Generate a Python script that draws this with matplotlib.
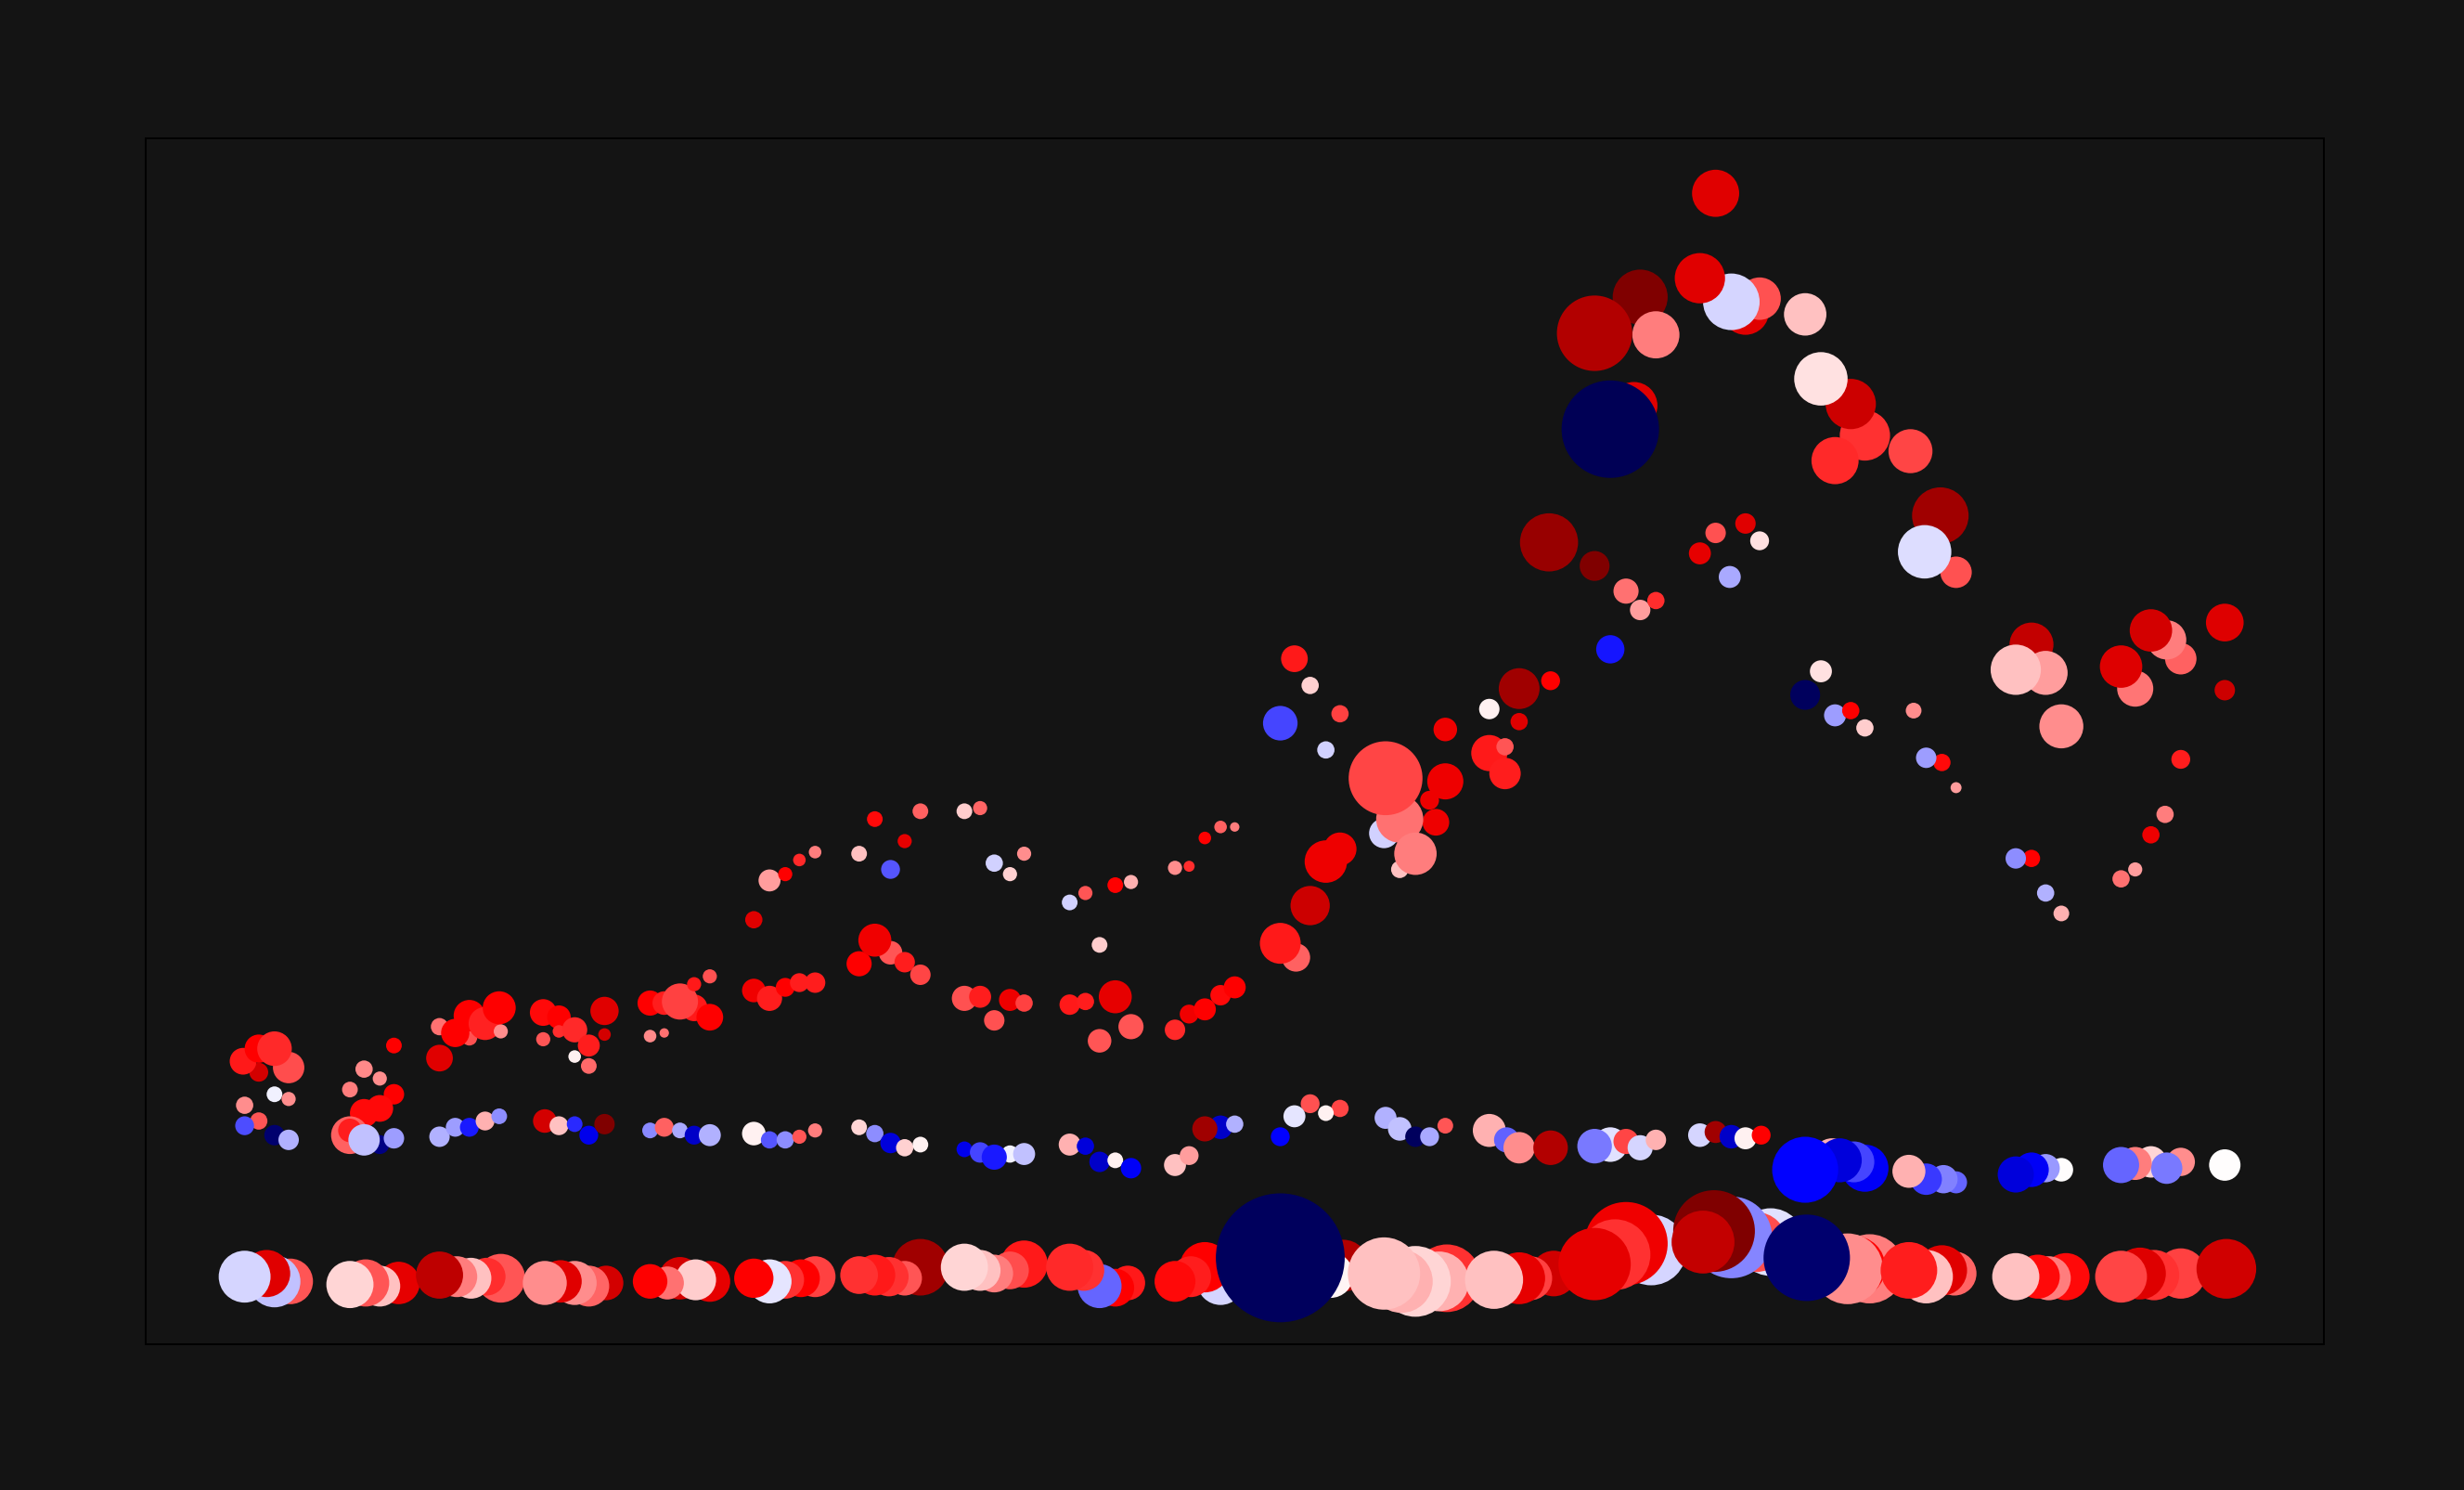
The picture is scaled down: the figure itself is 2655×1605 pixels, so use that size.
import numpy as np
import matplotlib
matplotlib.use("Agg")
import matplotlib.pyplot as plt

# --- data: three bands of bubbles (upper curves, middle band, bottom band) ---
# x / y are in chart units, size is bubble diameter, tone is the colour value (-1..1)

top_x = [72, 62, 72, 91, 82, 82, 91, 63, 72,
         139, 149, 158, 130, 158, 149, 139, 130, 130,
         187, 187, 206, 197, 206, 216, 226, 225,
         253, 263, 253, 263, 273, 282, 292, 292, 273, 282,
         321, 330, 321, 330, 349, 340, 349, 359, 359,
         397, 407, 416, 426, 387, 387, 397, 407, 416, 426,
         454, 464, 474, 483, 493, 454, 474, 483, 493, 464,
         521, 531, 540, 550, 559, 521, 531, 540, 550, 559,
         588, 598, 617, 627, 607, 588, 598, 617, 607, 627,
         655, 664, 674, 684, 693, 655, 664, 674, 684, 693,
         731, 741, 760, 722, 751, 732, 722, 741, 760, 751,
         827, 827, 817, 821, 788, 798, 798, 789, 808,
         855, 855, 865, 865, 874, 874, 894, 893,
         951, 961, 922, 947, 932, 922, 942, 951, 961, 932,
         999, 1018, 1027, 1009, 989, 989, 999, 1018, 1027, 1008,
         1094, 1085, 1075, 1056, 1066, 1056, 1066, 1075, 1085, 1094,
         1123, 1142, 1152, 1132, 1125, 1143, 1133, 1152,
         1200, 1209, 1190, 1219, 1200, 1190, 1209, 1219,
         1266, 1257, 1295, 1286, 1276, 1295, 1285, 1276, 1266, 1257,
         1323, 1323]
top_y = [173, 180, 188, 176, 188, 159, 156, 152, 142,
         175, 169, 190, 162, 159, 150, 147, 133, 136,
         182, 202, 195, 198, 209, 204, 199, 214,
         211, 208, 194, 199, 200, 190, 212, 197, 183, 177,
         196, 198, 217, 217, 214, 218, 229, 234, 208,
         295, 299, 308, 313, 270, 225, 220, 227, 230, 230,
         312, 334, 302, 320, 339, 242, 249, 243, 235, 257,
         339, 341, 306, 299, 312, 220, 221, 206, 219, 217,
         281, 287, 292, 294, 254, 216, 218, 221, 193, 202,
         303, 304, 322, 329, 329, 200, 210, 213, 222, 227,
         436, 419, 401, 395, 378, 246, 255, 279, 315, 307,
         391, 358, 346, 332, 325, 302, 334, 360, 312,
         404, 376, 380, 363, 417, 396, 422, 510,
         666, 642, 643, 597, 582, 495, 479, 467, 473, 442,
         732, 657, 665, 663, 678, 503, 516, 522, 511, 488,
         578, 598, 562, 655, 614, 413, 428, 400, 403, 392,
         568, 527, 491, 504, 403, 370, 373, 354,
         445, 427, 429, 393, 309, 309, 287, 274,
         417, 431, 436, 448, 454, 372, 337, 324, 302, 296,
         459, 416]
top_size = [12, 17, 18, 20, 22, 10, 9, 11, 11,
            11, 9, 10, 10, 13, 17, 18, 24, 15,
            17, 11, 10, 18, 20, 21, 9, 21,
            17, 15, 9, 8, 16, 14, 18, 8, 8, 10,
            8, 6, 16, 15, 17, 23, 9, 9, 17,
            14, 9, 8, 8, 11, 15, 16, 12, 12, 13,
            10, 10, 12, 9, 10, 16, 15, 13, 13, 21,
            10, 9, 11, 9, 9, 16, 14, 13, 14, 11,
            10, 9, 10, 9, 10, 13, 11, 21, 15, 16,
            9, 7, 8, 8, 6, 13, 12, 14, 13, 14,
            17, 11, 11, 22, 11, 18, 26, 25, 21, 27,
            15, 23, 12, 17, 19, 11, 30, 47, 27,
            13, 23, 11, 20, 26, 11, 12, 37,
            35, 30, 48, 30, 62, 19, 16, 13, 11, 18,
            30, 30, 27, 36, 32, 14, 13, 13, 12, 14,
            32, 32, 30, 27, 34, 19, 14, 14, 11, 11,
            28, 36, 20, 34, 10, 11, 13, 7,
            28, 28, 32, 28, 11, 13, 11, 10,
            23, 27, 20, 25, 27, 12, 11, 11, 9, 11,
            24, 13]
top_tone = [.67, .45, .5, .35, .42, -.03, .22, .22, .33,
            .23, .22, .5, .25, .5, .48, .48, .31, .44,
            .62, .28, .34, .5, .5, .43, .22, .5,
            .48, .5, .33, .41, .42, .44, .62, .67, .03, .29,
            .23, .28, .5, .44, .45, .37, .45, .34, .5,
            .19, .5, .42, .25, .62, .56, .44, .5, .44, .44,
            .12, .48, -.33, .6, .31, .5, .33, .44, .36, .56,
            .1, .3, -.09, .09, .22, .34, .44, .34, .57, .37,
            -.09, .33, .5, .15, .1, .45, .44, .6, .33, .33,
            .22, .41, .5, .31, .25, .42, .56, .5, .48, .5,
            .45, .09, .37, -.36, -.09, .31, .45, .7, .57, .57,
            .57, .57, .57, .57, -.09, .12, .28, .36, .25,
            .03, .45, .33, .44, .87, .62, .5, .9,
            1.0, .25, .8, .62, -.97, 1.0, .28, .19, .41, -.46,
            .62, .62, .34, -.08, .62, .6, .34, .62, .06, -.17,
            .4, .7, .42, .12, .06, -.95, .06, -.19, .5, .1,
            .36, .87, .34, -.07, .22, .48, -.19, .19,
            .73, .19, .12, .22, .5, -.22, -.15, .15,
            .27, .63, .31, .25, .67, .44, .25, .57, .19, .28,
            .63, .7]

mid_x = [63, 82, 91,
         149, 139, 158,
         187, 197, 206, 216, 225,
         254, 263, 273, 282, 292,
         321, 330, 340, 349, 359,
         387, 397, 407, 416, 426,
         454, 464, 474, 483, 493,
         521, 531, 550, 540, 559,
         588, 598, 607, 617, 627,
         655, 664, 684, 674, 693,
         741, 731, 760, 751, 722,
         789, 798, 808, 817, 827,
         855, 866, 874, 894,
         932, 922, 942, 951, 961,
         989, 999, 1009, 1018, 1028,
         1094, 1087, 1073, 1078, 1056,
         1152, 1144, 1133, 1122,
         1219, 1209, 1200, 1190,
         1295, 1276, 1286, 1266, 1257,
         1323]
mid_y = [139, 133, 130,
         127, 130, 131,
         132, 138, 138, 142, 145,
         142, 139, 140, 133, 140,
         136, 138, 136, 133, 133,
         134, 130, 130, 132, 136,
         138, 134, 128, 125, 127,
         124, 122, 121, 119, 121,
         127, 126, 116, 117, 112,
         114, 120, 138, 137, 140,
         153, 145, 150, 147, 132,
         144, 137, 132, 132, 139,
         136, 130, 125, 125,
         127, 126, 129, 125, 130,
         133, 135, 132, 131, 133,
         112, 116, 119, 117, 111,
         103, 105, 105, 110,
         111, 112, 111, 108,
         116, 116, 112, 115, 114,
         114]
mid_size = [12, 13, 13,
            12, 20, 13,
            13, 12, 12, 12, 10,
            15, 12, 10, 12, 13,
            10, 12, 10, 12, 14,
            15, 11, 11, 9, 9,
            10, 11, 13, 11, 10,
            10, 13, 11, 16, 14,
            14, 11, 13, 10, 13,
            14, 12, 15, 16, 11,
            12, 14, 11, 10, 12,
            14, 15, 13, 12, 10,
            21, 16, 20, 22,
            22, 22, 16, 16, 13,
            15, 14, 15, 14, 12,
            30, 26, 24, 28, 42,
            14, 18, 20, 21,
            15, 18, 22, 23,
            18, 20, 20, 21, 23,
            20]
mid_tone = [-.35, -.9, -.15,
            -.85, -.12, -.19,
            -.15, -.19, -.45, .15, -.22,
            .67, .12, -.42, -.55, 1.0,
            -.23, .31, -.17, -.65, -.15,
            .03, -.33, -.22, .33, .25,
            .08, -.22, -.6, .09, .03,
            -.55, -.36, -.03, -.45, -.12,
            .15, -.6, -.65, .03, -.52,
            .12, .19, -.65, .87, -.15,
            .34, -.05, .36, .03, -.5,
            -.15, -.12, -.95, -.17, .33,
            .15, -.31, .22, .8,
            -.06, -.26, .36, -.08, .15,
            -.08, .87, -.65, .03, .5,
            -.52, -.36, .15, -.6, -.5,
            -.3, -.25, -.39, .15,
            0, -.2, -.52, -.6,
            .22, .08, -.26, .25, -.3,
            0]

bot_x = [92, 82, 77, 63,
         161, 149, 140, 130,
         226, 217, 207, 198, 187,
         293, 282, 273, 264, 254,
         359, 340, 350, 332, 321,
         426, 417, 407, 397, 387,
         493, 483, 473, 464, 454,
         559, 550, 540, 531, 521,
         625, 617, 607, 597, 588,
         697, 684, 674, 665, 655,
         762, 754, 741, 731, 722,
         828, 823, 808, 799, 788,
         896, 881, 874, 858,
         958, 942, 935, 922,
         1034, 1025, 1009, 998, 991,
         1097, 1087, 1083, 1057,
         1151, 1143, 1133, 1122,
         1222, 1211, 1204, 1190,
         1295, 1278, 1269, 1257,
         1324]
bot_y = [40, 40, 45, 43,
         39, 37, 39, 38,
         42, 43, 42, 43, 44,
         39, 37, 39, 40, 39,
         40, 42, 41, 39, 40,
         43, 42, 41, 40, 42,
         49, 42, 43, 44, 44,
         51, 47, 45, 47, 49,
         39, 36, 37, 47, 49,
         41, 40, 49, 43, 40,
         50, 44, 43, 45, 55,
         42, 40, 40, 40, 45,
         45, 42, 42, 41,
         60, 64, 57, 51,
         65, 65, 68, 72, 65,
         48, 49, 48, 55,
         45, 47, 43, 47,
         43, 42, 43, 43,
         45, 44, 45, 43,
         48]
bot_size = [29, 33, 30, 33,
            27, 26, 30, 30,
            31, 24, 26, 26, 30,
            22, 26, 28, 27, 28,
            26, 27, 26, 21, 22,
            26, 24, 24, 28, 25,
            36, 22, 25, 26, 24,
            30, 24, 24, 26, 30,
            22, 24, 28, 26, 30,
            26, 30, 32, 26, 26,
            33, 29, 26, 28, 82,
            43, 38, 45, 40, 46,
            29, 28, 33, 37,
            45, 53, 45, 46,
            43, 38, 52, 52, 40,
            44, 40, 45, 55,
            28, 32, 34, 36,
            30, 28, 28, 30,
            32, 32, 33, 33,
            38]
bot_tone = [.33, -.12, .62, -.08,
            .6, .12, .33, .08,
            .33, .41, .12, .25, .75,
            .67, .3, .22, .62, .22,
            .6, .67, .1, .28, .5,
            .37, .5, .4, -.05, .5,
            .87, .33, .4, .45, .4,
            .45, .35, .25, .12, .08,
            .45, .5, -.3, .4, .42,
            .35, -.08, .5, .44, .48,
            .8, .02, .3, .44, -.95,
            .4, .15, .08, .15, .12,
            .68, .37, .6, .12,
            -.08, .56, .4, .6,
            -.06, .35, -.24, 1.0, .73,
            .25, .5, .22, -.9,
            .3, .62, .12, .44,
            .48, .25, .48, .12,
            .37, .4, .63, .36,
            .68]

BG = "#141414"
# diameter (chart px) -> marker area in pt^2
SIZE_SCALE = 1.219


def draw_band(ax, xs, ys, sizes, tones):
    s = (np.array(sizes, dtype=float) * SIZE_SCALE) ** 2
    ax.scatter(xs, ys, s=s, c=tones, cmap="seismic", vmin=-1, vmax=1,
               edgecolors="none", linewidths=0)


def main():
    fig = plt.figure(figsize=(26.55, 16.05), dpi=100, facecolor=BG)
    ax = fig.add_axes([0.0591, 0.0978, 0.8840, 0.8094])
    ax.set_facecolor(BG)

    draw_band(ax, top_x, top_y, top_size, top_tone)
    draw_band(ax, mid_x, mid_y, mid_size, mid_tone)
    draw_band(ax, bot_x, bot_y, bot_size, bot_tone)

    ax.set_xlim(0, 1386)
    ax.set_ylim(0, 767)
    ax.set_xticks([])
    ax.set_yticks([])
    for sp in ax.spines.values():
        sp.set_color("black")
        sp.set_linewidth(1.4)

    fig.savefig("out.png", dpi=100, facecolor=BG)
    plt.close(fig)


if __name__ == "__main__":
    main()
